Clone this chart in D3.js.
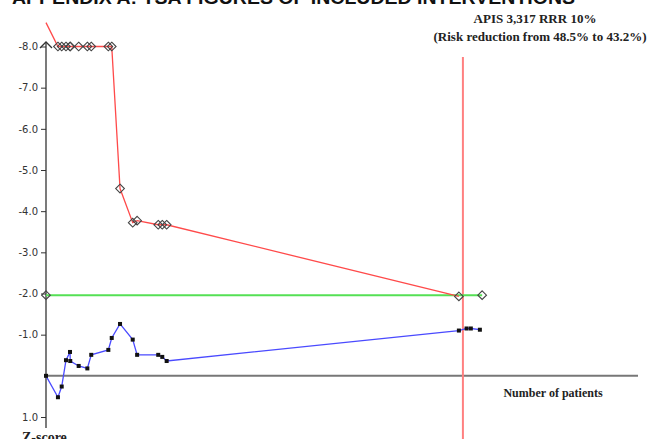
<!DOCTYPE html>
<html>
<head>
<meta charset="utf-8">
<script src="https://cdn.jsdelivr.net/npm/d3@7"></script>
<style>
body{margin:0;background:#fff;}
</style>
</head>
<body>
<div id="svgContainer"></div>
<script>
// cumulative number of patients for every trial added
var patients = [0, 95, 125, 159, 191, 193, 260, 329, 360, 496, 523, 589, 690, 725, 893, 925, 960, 3285, 3346, 3380, 3452];
// cumulative Z-curve (axis is labelled with negative values upwards)
var zCurve = [0, 0.52, 0.26, -0.38, -0.58, -0.36, -0.24, -0.18, -0.51, -0.63, -0.92, -1.26, -0.88, -0.51, -0.51, -0.46, -0.36, -1.10, -1.15, -1.15, -1.12];
// monitoring boundary
var boundPatients = [0, 95, 125, 159, 191, 193, 260, 329, 360, 496, 523, 589, 690, 725, 893, 925, 960, 3285];
var boundZ = [-8.58, -8, -8, -8, -8, -8, -8, -8, -8, -8, -8, -4.55, -3.72, -3.77, -3.67, -3.67, -3.67, -1.93];
// conventional boundary
var convPatients = [0, 3470];
var convZ = [-1.96, -1.96];
var ris = 3317;
var yTicks = [-8, -7, -6, -5, -4, -3, -2, -1, 1];

var svgWidth = 665, svgHeight = 439;
var svg = d3.select("#svgContainer").append("svg")
    .attr("width", svgWidth)
    .attr("height", svgHeight)
    .style("display", "block");

var x = d3.scaleLinear().domain([0, 4710]).range([46, 638]);
var y = d3.scaleLinear().domain([-8, 1]).range([46.5, 417]);

// title (cut off at the top of the page)
svg.append("text")
    .attr("x", 12).attr("y", 4)
    .attr("font-family", "Liberation Sans, Arial, sans-serif")
    .attr("font-weight", "bold")
    .attr("font-size", 18)
    .attr("textLength", 563)
    .attr("lengthAdjust", "spacingAndGlyphs")
    .attr("fill", "#111")
    .text("APPENDIX A: TSA FIGURES OF INCLUDED INTERVENTIONS");

// x axis line
svg.append("line")
    .attr("x1", x(0)).attr("x2", 638)
    .attr("y1", y(0)).attr("y2", y(0))
    .attr("stroke", "#777").attr("stroke-width", 2);

// y axis
var yAxis = svg.append("g")
    .attr("transform", "translate(" + x(0) + ",0)")
    .call(d3.axisLeft(y).tickValues(yTicks)
        .tickFormat(function(d){ return d.toFixed(1); })
        .tickSize(5).tickSizeOuter(0));
yAxis.select(".domain").remove();
yAxis.selectAll("line").attr("stroke", "#333");
yAxis.selectAll("text")
    .attr("font-family", "DejaVu Sans, Verdana, sans-serif")
    .attr("font-size", 10)
    .attr("fill", "#333")
    .attr("x", -8);

svg.append("line")
    .attr("x1", x(0)).attr("x2", x(0))
    .attr("y1", 42).attr("y2", 428)
    .attr("stroke", "#333").attr("stroke-width", 1.3);
svg.append("path")
    .attr("d", "M" + (x(0) - 6) + ",48 L" + x(0) + ",42 L" + (x(0) + 6) + ",48")
    .attr("fill", "none").attr("stroke", "#333").attr("stroke-width", 1.3);

// required information size
svg.append("line")
    .attr("x1", x(ris)).attr("x2", x(ris))
    .attr("y1", 57).attr("y2", svgHeight)
    .attr("stroke", "#ff8080").attr("stroke-width", 2);

var line = d3.line().x(function(d){ return x(d[0]); }).y(function(d){ return y(d[1]); });
var diamond = d3.symbol().type(d3.symbolDiamond2).size(48);

// conventional boundary
var conv = d3.zip(convPatients, convZ);
svg.append("path").datum(conv)
    .attr("d", line)
    .attr("fill", "none").attr("stroke", "#55e055").attr("stroke-width", 2);

// monitoring boundary
var bound = d3.zip(boundPatients, boundZ);
svg.append("path").datum(bound)
    .attr("d", line)
    .attr("fill", "none").attr("stroke", "#ff4a4a").attr("stroke-width", 1.3);

svg.selectAll(".bdia")
    .data(bound.slice(1).concat(conv))
    .enter().append("path")
    .attr("class", "bdia")
    .attr("d", diamond)
    .attr("transform", function(d){ return "translate(" + x(d[0]) + "," + y(d[1]) + ")"; })
    .attr("fill", "none").attr("stroke", "#444").attr("stroke-width", 1.1);

// Z-curve
var zc = d3.zip(patients, zCurve);
svg.append("path").datum(zc)
    .attr("d", line)
    .attr("fill", "none").attr("stroke", "#4a4aff").attr("stroke-width", 1.3);
svg.selectAll(".zpt")
    .data(zc)
    .enter().append("rect")
    .attr("class", "zpt")
    .attr("x", function(d){ return x(d[0]) - 2; })
    .attr("y", function(d){ return y(d[1]) - 2; })
    .attr("width", 4).attr("height", 4)
    .attr("fill", "#111");

// labels
var serif = "Liberation Serif, Times New Roman, serif";
svg.append("text")
    .attr("x", 535).attr("y", 23)
    .attr("text-anchor", "middle")
    .attr("font-family", serif).attr("font-weight", "bold").attr("font-size", 13)
    .attr("fill", "#222")
    .text("APIS 3,317 RRR 10%");
svg.append("text")
    .attr("x", 540).attr("y", 41)
    .attr("text-anchor", "middle")
    .attr("font-family", serif).attr("font-weight", "bold").attr("font-size", 13)
    .attr("fill", "#222")
    .text("(Risk reduction from 48.5% to 43.2%)");
svg.append("text")
    .attr("x", 553).attr("y", 397)
    .attr("text-anchor", "middle")
    .attr("font-family", serif).attr("font-weight", "bold").attr("font-size", 12)
    .attr("fill", "#222")
    .text("Number of patients");
svg.append("text")
    .attr("x", 22).attr("y", 442)
    .attr("font-family", serif).attr("font-weight", "bold").attr("font-size", 14)
    .attr("fill", "#222")
    .text("Z-score");
</script>
</body>
</html>
